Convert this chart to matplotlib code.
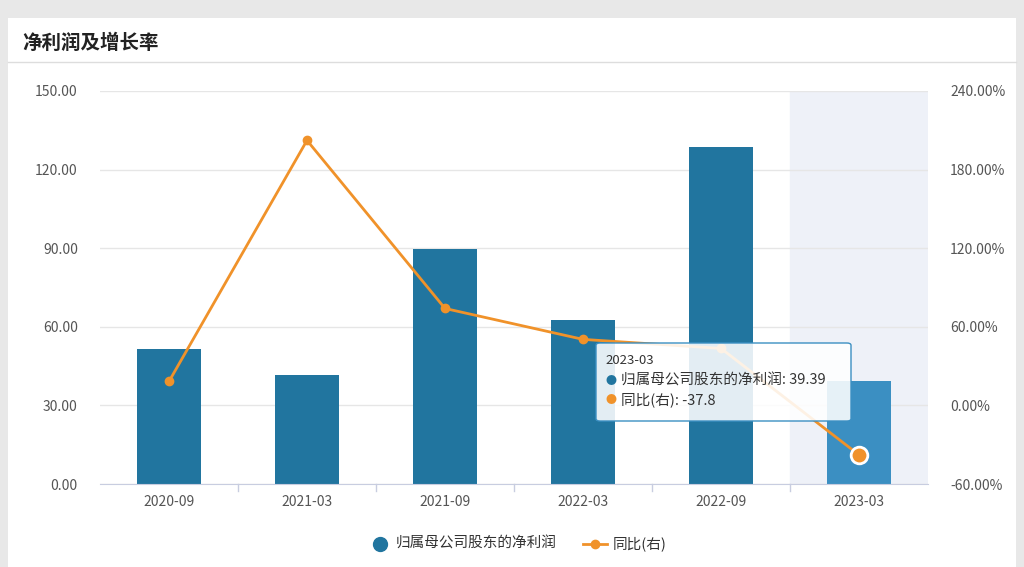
import matplotlib
matplotlib.use("Agg")
import matplotlib.pyplot as plt
from matplotlib.patches import Rectangle, FancyBboxPatch
from matplotlib.lines import Line2D

plt.rcParams['font.family'] = ['Noto Sans CJK SC', 'DejaVu Sans']

categories = ["2020-09", "2021-03", "2021-09", "2022-03", "2022-09", "2023-03"]
profit = [51.5, 41.6, 89.7, 62.6, 128.6, 39.39]
yoy = [18.3, 202.3, 74.0, 50.4, 43.5, -37.8]
left_ticks = [0, 30, 60, 90, 120, 150]
right_ticks = [-60, 0, 60, 120, 180, 240]

fig = plt.figure(figsize=(10.24, 5.67), dpi=100)
fig.patch.set_facecolor('#e8e8e8')
fig.patches.append(Rectangle((8/1024, 0), 1008/1024, (567-18)/567, transform=fig.transFigure,
                             facecolor='white', edgecolor='none', zorder=-10))
fig.add_artist(Line2D([8/1024, 1016/1024], [1-62/567]*2, color='#dddddd', lw=1, zorder=-5))
fig.text(22/1024, 1-43/567, "净利润及增长率", fontsize=14, fontweight='bold', va='center', color='#222222')

ax = fig.add_axes([100/1024, 83/567, 828/1024, 393/567])
ax.set_zorder(1)
ax.set_facecolor('none')
x = list(range(len(categories)))
ax.axvspan(4.5, 5.5, color='#eef1f8', zorder=0)
colors = ['#21759f'] * 5 + ['#3b8fc2']
ax.bar(x, profit, width=0.47, color=colors, zorder=2)
ax.set_xlim(-0.5, 5.5)
ax.set_ylim(0, 150)
ax.set_yticks(left_ticks)
ax.set_yticklabels([f"{v:.2f}" for v in left_ticks])
ax.set_xticks(x)
ax.set_xticklabels(categories)
ax.grid(axis='y', color='#e6e6e6', lw=1, zorder=0)
for s in ['top', 'right', 'left']:
    ax.spines[s].set_visible(False)
ax.spines['bottom'].set_color('#c8cde0')
ax.tick_params(axis='y', length=0, labelsize=10, labelcolor='#555555', pad=16)
ax.tick_params(axis='x', length=0, labelsize=10, labelcolor='#555555', pad=8)
for b in [0.5, 1.5, 2.5, 3.5, 4.5]:
    ax.plot([b, b], [0, -2.5], color='#c8cde0', lw=1, clip_on=False)

ax2 = ax.twinx()
ax2.set_zorder(2)
ax2.set_ylim(-60, 240)
ax2.set_yticks(right_ticks)
ax2.set_yticklabels([f"{v:.2f}%" for v in right_ticks])
for s in ['top', 'right', 'left', 'bottom']:
    ax2.spines[s].set_visible(False)
ax2.tick_params(axis='y', length=0, labelsize=10, labelcolor='#555555', pad=16)
ax2.plot(x, yoy, color='#f0922a', lw=2, marker='o', ms=6, zorder=3)
ax2.plot(x[-1], yoy[-1], marker='o', ms=12, color='#f0922a', mec='white', mew=2, zorder=4)

# tooltip
tb = FancyBboxPatch((596/1024, 1-421/567), 255/1024, 78/567, boxstyle="round,pad=0,rounding_size=0.004",
                    transform=fig.transFigure, facecolor=(1, 1, 1, 0.88), edgecolor='#3b8fc2', lw=1, zorder=10)
fig.patches.append(tb)
fig.text(605/1024, 1-361/567, "2023-03", fontsize=9.5, color='#333333', va='center', zorder=11)
fig.text(606/1024, 1-381/567, "●", fontsize=8, color='#21759f', va='center', zorder=11)
fig.text(621/1024, 1-381/567, f"归属母公司股东的净利润: {profit[-1]:.2f}", fontsize=10.5, color='#333333', va='center', zorder=11)
fig.text(606/1024, 1-400/567, "●", fontsize=8, color='#f0922a', va='center', zorder=11)
fig.text(621/1024, 1-400/567, f"同比(右): {yoy[-1]}", fontsize=10.5, color='#333333', va='center', zorder=11)

# legend
fig.add_artist(Line2D([380/1024], [1-544/567], marker='o', ms=10, color='#21759f', lw=0))
fig.text(396/1024, 1-544/567, "归属母公司股东的净利润", fontsize=10.5, va='center', color='#333333')
fig.add_artist(Line2D([583/1024, 607/1024], [1-544/567]*2, color='#f0922a', lw=2))
fig.add_artist(Line2D([595/1024], [1-544/567], marker='o', ms=6, color='#f0922a', lw=0))
fig.text(613/1024, 1-544/567, "同比(右)", fontsize=10.5, va='center', color='#333333')

fig.savefig("out.png", dpi=100, facecolor=fig.get_facecolor())
